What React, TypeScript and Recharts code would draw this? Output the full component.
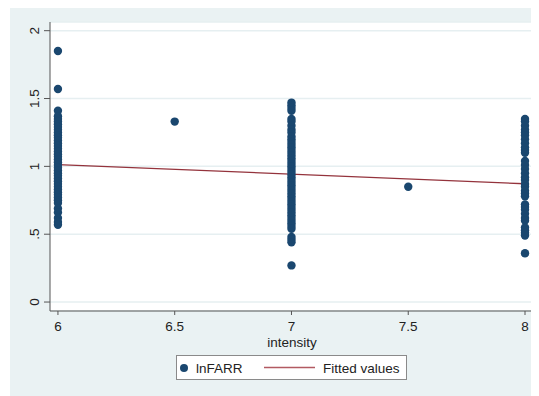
import React from "react";
import { ComposedChart, Scatter, Line, XAxis, YAxis, CartesianGrid, Legend } from "recharts";

const intensity6 = [1.85, 1.57, 1.41, 1.37, 1.35, 1.33, 1.31, 1.29, 1.27, 1.25, 1.23, 1.21, 1.19, 1.17, 1.15, 1.13, 1.11, 1.09, 1.07, 1.05, 1.03, 1.01, 0.99, 0.97, 0.95, 0.93, 0.91, 0.89, 0.87, 0.85, 0.83, 0.81, 0.79, 0.77, 0.75, 0.73, 0.69, 0.66, 0.62, 0.59, 0.57];
const intensity65 = [1.33];
const intensity7 = [1.47, 1.45, 1.43, 1.41, 1.35, 1.33, 1.3, 1.27, 1.25, 1.22, 1.2, 1.18, 1.16, 1.14, 1.12, 1.1, 1.08, 1.06, 1.04, 1.02, 1.0, 0.98, 0.96, 0.94, 0.92, 0.9, 0.88, 0.86, 0.84, 0.82, 0.8, 0.78, 0.76, 0.74, 0.72, 0.7, 0.68, 0.66, 0.64, 0.62, 0.6, 0.58, 0.56, 0.54, 0.48, 0.46, 0.44, 0.27];
const intensity75 = [0.85];
const intensity8 = [1.35, 1.33, 1.3, 1.27, 1.25, 1.23, 1.2, 1.17, 1.14, 1.12, 1.1, 1.04, 1.01, 0.98, 0.95, 0.92, 0.9, 0.87, 0.85, 0.82, 0.8, 0.78, 0.72, 0.7, 0.68, 0.65, 0.62, 0.6, 0.55, 0.53, 0.51, 0.49, 0.36];

const fitX = [6, 8];
const fitY = [1.013, 0.872];

const xTicks = [6, 6.5, 7, 7.5, 8];
const yTicks = [0, 0.5, 1, 1.5, 2];
const yTickLabels = ["0", ".5", "1", "1.5", "2"];

const scatterData = [
  ...intensity6.map((v) => ({ x: 6, y: v })),
  ...intensity65.map((v) => ({ x: 6.5, y: v })),
  ...intensity7.map((v) => ({ x: 7, y: v })),
  ...intensity75.map((v) => ({ x: 7.5, y: v })),
  ...intensity8.map((v) => ({ x: 8, y: v })),
];
const fitData = fitX.map((x, i) => ({ x, y: fitY[i] }));

const FONT = "'Liberation Sans', Arial, sans-serif";
const NAVY = "#1a476f";
const MAROON = "#94333c";
const TEXT = "#222";

const YTick = (props: any) => {
  const { y, payload } = props;
  const X = 29;
  const idx = yTicks.indexOf(payload.value);
  const label = idx >= 0 ? yTickLabels[idx] : String(payload.value);
  return (
    <text x={X} y={y} transform={`rotate(-90, ${X}, ${y})`} textAnchor="middle" fontSize={13.5} fontFamily={FONT} fill={TEXT}>
      {label}
    </text>
  );
};

const LegendBox = () => (
  <div
    style={{
      boxSizing: "border-box",
      width: 231,
      height: 25,
      border: "1px solid #8a8a8a",
      background: "#fff",
      position: "relative",
      fontFamily: FONT,
      fontSize: 13.5,
      color: TEXT,
    }}
  >
    <svg width={231} height={25} style={{ position: "absolute", left: -1, top: -1 }}>
      <circle cx={8} cy={13} r={4} fill={NAVY} />
      <text x={20} y={18} fontSize={13.5} fontFamily={FONT} fill={TEXT}>lnFARR</text>
      <line x1={88} x2={139} y1={12.5} y2={12.5} stroke="#b25a62" strokeWidth={1.3} />
      <text x={147} y={18} fontSize={13.5} fontFamily={FONT} fill={TEXT}>Fitted values</text>
    </svg>
  </div>
);

export default function App() {
  return (
    <div style={{ paddingLeft: 2 }}>
      <div style={{ width: 529, height: 388, background: "#eaf2f3" }}>
        <ComposedChart width={529} height={388} margin={{ top: 14, right: 5, bottom: 16, left: 0 }}>
          <CartesianGrid fill="#ffffff" vertical={false} stroke="#e6eff1" strokeWidth={1.5} />
          <XAxis
            type="number"
            dataKey="x"
            domain={[5.966, 8.0385]}
            ticks={xTicks}
            allowDataOverflow
            height={44}
            tickSize={4}
            tickMargin={6}
            tickFormatter={(v: number) => String(v)}
            tick={{ fontSize: 13.5, fontFamily: FONT, fill: TEXT }}
            axisLine={{ stroke: "#555" }}
            tickLine={{ stroke: "#555" }}
            label={(p: any) => {
              const vb = p.viewBox;
              return (
                <text x={vb.x + vb.width / 2} y={vb.y + 36} textAnchor="middle" fontSize={13.5} fontFamily={FONT} fill={TEXT}>
                  intensity
                </text>
              );
            }}
          />
          <YAxis
            type="number"
            dataKey="y"
            domain={[-0.066, 2.064]}
            ticks={yTicks}
            allowDataOverflow
            width={40}
            tickSize={6}
            tick={<YTick />}
            axisLine={{ stroke: "#555" }}
            tickLine={{ stroke: "#555" }}
          />
          <Scatter
            name="lnFARR"
            data={scatterData}
            dataKey="y"
            isAnimationActive={false}
            shape={(p: any) => <circle cx={p.cx} cy={p.cy} r={4.2} fill={NAVY} />}
          />
          <Line
            name="Fitted values"
            data={fitData}
            dataKey="y"
            type="linear"
            stroke={MAROON}
            strokeWidth={1.3}
            dot={false}
            activeDot={false}
            isAnimationActive={false}
          />
          <Legend
            verticalAlign="bottom"
            content={() => <LegendBox />}
            wrapperStyle={{ left: 166, width: 231, height: 25 }}
          />
        </ComposedChart>
      </div>
    </div>
  );
}
